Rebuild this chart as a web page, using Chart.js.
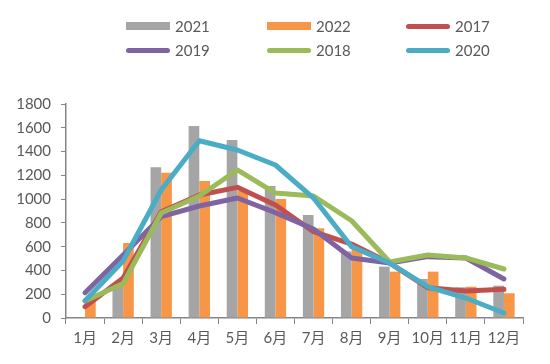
<!DOCTYPE html>
<html>
<head>
<meta charset="utf-8">
<script src="https://cdn.jsdelivr.net/npm/chart.js@4/dist/chart.umd.min.js"></script>
<style>
  html, body { margin: 0; padding: 0; background: #fff; }
  #wrap { position: relative; width: 550px; height: 364px; }
  #legend { position: absolute; left: 0; top: 0; width: 550px; height: 70px; font-family: Lato, "Noto Sans", sans-serif; font-size: 15px; color: #595959; }
  .item { position: absolute; height: 18px; line-height: 18px; white-space: nowrap; }
  .sw { display: inline-block; width: 44px; vertical-align: middle; margin-right: 5px; }
  .txt { vertical-align: middle; }
</style>
</head>
<body>
<div id="wrap">
  <canvas id="c" width="550" height="364"></canvas>
  <div id="legend"></div>
</div>
<script>
const months = ['1月','2月','3月','4月','5月','6月','7月','8月','9月','10月','11月','12月'];
const s2021 = [null, 280, 1267, 1615, 1497, 1110, 866, 560, 432, 328, 258, 272];
const s2022 = [151, 631, 1222, 1152, 1070, 1000, 754, 580, 390, 390, 263, 208];
const s2017 = [95, 336, 894, 1034, 1099, 950, 726, 622, 462, 255, 227, 241];
const s2019 = [213, 530, 852, 942, 1009, 886, 748, 505, 462, 516, 505, 328];
const s2018 = [143, 290, 883, 1026, 1245, 1051, 1026, 818, 471, 530, 505, 412];
const s2020 = [145, 480, 1077, 1491, 1413, 1287, 1009, 600, 462, 263, 168, 42];
const yTicks = [0, 200, 400, 600, 800, 1000, 1200, 1400, 1600, 1800];

const colors = {
  g2021: '#A5A5A5', g2022: '#F79646', g2017: '#C0504D',
  g2019: '#8064A2', g2018: '#9BBB59', g2020: '#4BACC6'
};
const fontFam = 'Lato, "Noto Sans CJK SC", "Noto Sans", sans-serif';

function lineDs(label, data, color, order) {
  return { type: 'line', label, data, borderColor: color, backgroundColor: color,
    borderWidth: 5, pointRadius: 0, tension: 0, order, borderCapStyle: 'round', borderJoinStyle: 'round' };
}

const chart = new Chart(document.getElementById('c'), {
  type: 'bar',
  data: {
    labels: months,
    datasets: [
      { label: '2021', data: s2021, backgroundColor: colors.g2021, order: 10, barPercentage: 1, categoryPercentage: 0.56 },
      { label: '2022', data: s2022, backgroundColor: colors.g2022, order: 11, barPercentage: 1, categoryPercentage: 0.56 },
      lineDs('2017', s2017, colors.g2017, 3),
      lineDs('2019', s2019, colors.g2019, 2),
      lineDs('2018', s2018, colors.g2018, 1),
      lineDs('2020', s2020, colors.g2020, 0)
    ]
  },
  options: {
    responsive: false,
    animation: false,
    devicePixelRatio: 1,
    layout: { padding: { top: 104, left: 0, right: 27, bottom: 0 } },
    plugins: { legend: { display: false }, tooltip: { enabled: false } },
    scales: {
      x: {
        grid: { display: true, drawOnChartArea: false, drawTicks: true, tickLength: 6, color: '#868686', offset: true },
        border: { display: true, color: '#868686', width: 1.5 },
        ticks: { color: '#595959', font: { family: fontFam, size: 15 }, padding: 5, maxRotation: 0, autoSkip: false },
        afterFit: (s) => { s.height = 46; }
      },
      y: {
        min: 0, max: 1800,
        afterBuildTicks: (s) => { s.ticks = yTicks.map(v => ({ value: v })); },
        grid: { display: true, drawOnChartArea: false, drawTicks: true, tickLength: 5, color: '#868686' },
        border: { display: true, color: '#868686', width: 1.5 },
        ticks: { color: '#595959', font: { family: fontFam, size: 15 }, padding: 10, callback: (v) => String(v) },
        afterFit: (s) => { s.width = 66; }
      }
    }
  }
});

// HTML legend built from the chart datasets
const legendEl = document.getElementById('legend');
const cols = [126, 267, 406];
const rows = [15, 39];
chart.data.datasets.forEach((ds, i) => {
  const it = document.createElement('div');
  it.className = 'item';
  it.style.left = cols[i % 3] + 'px';
  it.style.top = rows[Math.floor(i / 3)] + 'px';
  const sw = document.createElement('span');
  sw.className = 'sw';
  if (ds.type === 'line') {
    sw.style.height = '5px';
    sw.style.borderRadius = '3px';
    sw.style.background = ds.borderColor;
  } else {
    sw.style.height = '8px';
    sw.style.background = ds.backgroundColor;
  }
  const tx = document.createElement('span');
  tx.className = 'txt';
  tx.textContent = ds.label;
  it.appendChild(sw);
  it.appendChild(tx);
  legendEl.appendChild(it);
});
</script>
</body>
</html>
